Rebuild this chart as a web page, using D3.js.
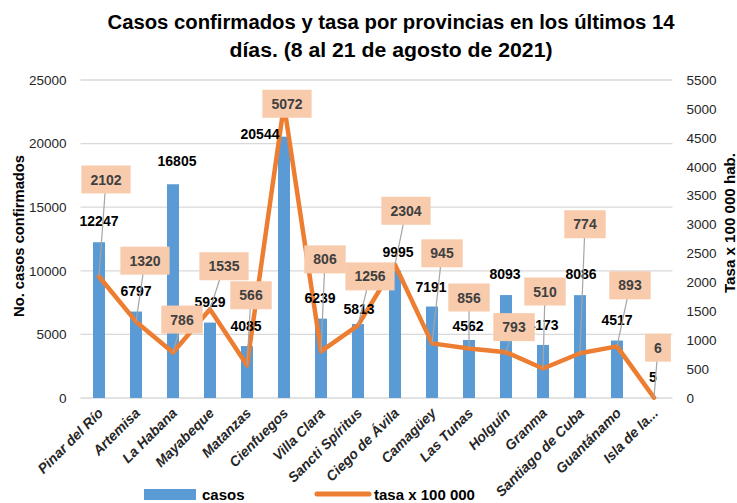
<!DOCTYPE html>
<html>
<head>
<meta charset="utf-8">
<script src="https://cdn.jsdelivr.net/npm/d3@7"></script>
<style>
  html, body { margin: 0; padding: 0; background: #ffffff; }
  svg { display: block; font-family: "Liberation Sans", Arial, sans-serif; }
</style>
</head>
<body>
<svg id="chart" width="737" height="503"></svg>
<script>
// ---------- data ----------
const categories = ["Pinar del Río", "Artemisa", "La Habana", "Mayabeque", "Matanzas", "Cienfuegos",
  "Villa Clara", "Sancti Spíritus", "Ciego de Ávila", "Camagüey", "Las Tunas", "Holguín",
  "Granma", "Santiago de Cuba", "Guantánamo", "Isla de la..."];
const casos = [12247, 6797, 16805, 5929, 4085, 20544, 6239, 5813, 9995, 7191, 4562, 8093, 4173, 8086, 4517, 5];
const tasa = [2102, 1320, 786, 1535, 566, 5072, 806, 1256, 2304, 945, 856, 793, 510, 774, 893, 6];
const leftTicks = [0, 5000, 10000, 15000, 20000, 25000];
const rightTicks = [0, 500, 1000, 1500, 2000, 2500, 3000, 3500, 4000, 4500, 5000, 5500];
const titleLines = ["Casos confirmados y tasa por provincias en los últimos 14", "días. (8 al 21 de agosto de 2021)"];
const leftTitle = "No. casos confirmados";
const rightTitle = "Tasa x 100 000 hab.";
const legendNames = ["casos", "tasa x 100 000"];

// ---------- label placement (layout only, pixel offsets) ----------
const tasaLabelDx = [7, 9, 9, 14, 4, 3, 4, 12, 11, 10, 0, 8, 2, 5, 13, 4];
const tasaLabelDy = [-97, -61, -33, -43, -70, -1, -92, -49, -54, -90, -51, -25, -77, -129, -61, -50];
const casosLabelDx = [0, 0, 4, 0, -1, -24, -1, 1, 3, -1, -1, -1, 0, 1, 0, -1];
const casosLabelDy = [-21, -21, -23, -21, -20, -3, -21, -15, -19, -20, -14, -21, -20, -21, -21, -21];

// ---------- layout ----------
const svg = d3.select("#chart");
const plot = { left: 80.5, right: 672.5, top: 80, bottom: 398 };
const blue = "#5B9BD5", orange = "#ED7D31";

const x = d3.scaleBand().domain(categories).range([plot.left, plot.right]).paddingInner(0).paddingOuter(0);
const yL = d3.scaleLinear().domain([0, 25000]).range([plot.bottom, plot.top]);
const yR = d3.scaleLinear().domain([0, 5500]).range([plot.bottom, plot.top]);
const xc = d => x(d) + x.bandwidth() / 2;
const barW = 12;

// title
svg.append("g").selectAll("text").data(titleLines).join("text")
  .attr("x", 391).attr("y", (d, i) => 29 + i * 28)
  .attr("text-anchor", "middle")
  .attr("font-size", 20).attr("font-weight", "bold").attr("fill", "#000")
  .attr("textLength", (d, i) => i === 0 ? 567 : 323)
  .attr("lengthAdjust", "spacingAndGlyphs")
  .text(d => d);

// gridlines
svg.append("g").selectAll("line").data(leftTicks).join("line")
  .attr("x1", plot.left).attr("x2", plot.right)
  .attr("y1", d => yL(d)).attr("y2", d => yL(d))
  .attr("stroke", "#D9D9D9").attr("stroke-width", 1.3);

// left axis
const gL = svg.append("g").attr("transform", `translate(${plot.left},0)`)
  .call(d3.axisLeft(yL).tickValues(leftTicks).tickSize(0).tickPadding(14).tickFormat(d3.format("d")));
gL.select(".domain").remove();
gL.selectAll("text").attr("font-size", 13.5).attr("fill", "#262626").attr("font-family", "Liberation Sans, Arial, sans-serif");

// right axis
const gR = svg.append("g").attr("transform", `translate(${plot.right},0)`)
  .call(d3.axisRight(yR).tickValues(rightTicks).tickSize(0).tickPadding(14).tickFormat(d3.format("d")));
gR.select(".domain").remove();
gR.selectAll("text").attr("font-size", 13.5).attr("fill", "#262626").attr("font-family", "Liberation Sans, Arial, sans-serif");

// axis titles
svg.append("text").attr("transform", "translate(24,236) rotate(-90)")
  .attr("text-anchor", "middle").attr("font-size", 15).attr("font-weight", "bold")
  .attr("textLength", 162).attr("lengthAdjust", "spacingAndGlyphs").text(leftTitle);
svg.append("text").attr("transform", "translate(735,223) rotate(-90)")
  .attr("text-anchor", "middle").attr("font-size", 14).attr("font-weight", "bold")
  .attr("textLength", 140).attr("lengthAdjust", "spacingAndGlyphs").text(rightTitle);

// bars
svg.append("g").selectAll("rect").data(categories).join("rect")
  .attr("x", d => xc(d) - barW / 2).attr("width", barW)
  .attr("y", (d, i) => yL(casos[i]))
  .attr("height", (d, i) => plot.bottom - yL(casos[i]))
  .attr("fill", blue);

// line
const line = d3.line().x((d, i) => xc(categories[i])).y(d => yR(d));
svg.append("path").datum(tasa).attr("d", line)
  .attr("fill", "none").attr("stroke", orange).attr("stroke-width", 4.5)
  .attr("stroke-linejoin", "round").attr("stroke-linecap", "round");

// casos labels
svg.append("g").selectAll("text").data(categories).join("text")
  .attr("x", (d, i) => xc(d) + casosLabelDx[i])
  .attr("y", (d, i) => yL(casos[i]) + casosLabelDy[i])
  .attr("dy", "0.36em").attr("text-anchor", "middle")
  .attr("font-size", 14).attr("font-weight", "bold").attr("fill", "#000")
  .text((d, i) => casos[i]);

// tasa labels: leader lines + boxes
const tg = svg.append("g");
categories.forEach((c, i) => {
  const px = xc(c), py = yR(tasa[i]);
  const bx = px + tasaLabelDx[i], by = py + tasaLabelDy[i];
  tg.append("line").attr("x1", px).attr("y1", py).attr("x2", bx).attr("y2", by)
    .attr("stroke", "#A5A5A5").attr("stroke-width", 1.2);
});
categories.forEach((c, i) => {
  const px = xc(c), py = yR(tasa[i]);
  const bx = px + tasaLabelDx[i], by = py + tasaLabelDy[i];
  const label = String(tasa[i]);
  const w = label.length * 7.8 + 18, h = 28;
  tg.append("rect").attr("x", bx - w / 2).attr("y", by - h / 2).attr("width", w).attr("height", h)
    .attr("fill", "#F8CBAD");
  tg.append("text").attr("x", bx).attr("y", by).attr("dy", "0.36em")
    .attr("text-anchor", "middle").attr("font-size", 14).attr("font-weight", "bold")
    .attr("fill", "#404040").text(label);
});

// x labels
svg.append("g").selectAll("text").data(categories).join("text")
  .attr("transform", d => `translate(${xc(d) + 5},${plot.bottom + 16}) rotate(-45)`)
  .attr("text-anchor", "end")
  .attr("font-size", 14).attr("font-weight", "bold").attr("font-style", "italic").attr("fill", "#262626")
  .text(d => d);

// legend
const lg = svg.append("g");
lg.append("rect").attr("x", 144).attr("y", 489).attr("width", 52).attr("height", 11).attr("fill", blue);
lg.append("text").attr("x", 202).attr("y", 500).attr("font-size", 15).attr("font-weight", "bold").text(legendNames[0]);
lg.append("line").attr("x1", 317).attr("x2", 369).attr("y1", 494).attr("y2", 494)
  .attr("stroke", orange).attr("stroke-width", 5).attr("stroke-linecap", "round");
lg.append("text").attr("x", 374).attr("y", 500).attr("font-size", 15).attr("font-weight", "bold").text(legendNames[1]);
</script>
</body>
</html>
